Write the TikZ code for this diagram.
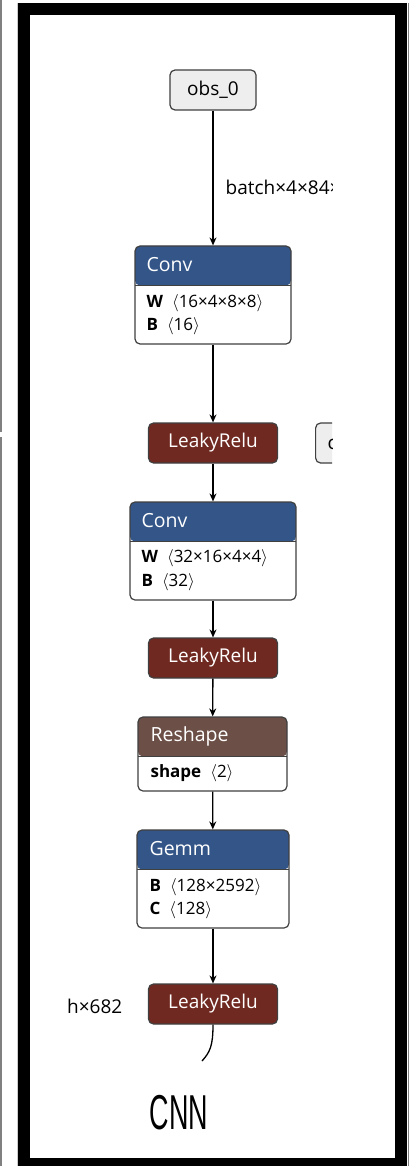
\documentclass[tikz,border=0pt]{standalone}
\usepackage{fontspec}
\setmainfont{Open Sans}
\newfontfamily\titlefont{Liberation Sans}
\usetikzlibrary{arrows.meta,positioning}
\definecolor{convblue}{RGB}{51,85,136}
\definecolor{relured}{RGB}{112,41,33}
\definecolor{shapebrown}{RGB}{108,79,71}
\definecolor{inputgray}{RGB}{238,238,238}
\definecolor{framegray}{RGB}{128,128,128}

\begin{document}
\begin{tikzpicture}[x=1pt, y=-1pt,
    opbox/.style={draw=black!75, line width=1.2pt, rounded corners=5pt, fill=white, inner sep=0pt},
    inbox/.style={opbox, fill=inputgray, font=\fontsize{19}{19}\selectfont},
    relubox/.style={opbox, fill=relured, text=white, minimum width=129pt, minimum height=40pt, font=\fontsize{19}{19}\selectfont},
    headbox/.style={opbox, path picture={
        \fill[#1] (path picture bounding box.north west) rectangle ([yshift=-39.5pt]path picture bounding box.north east);
        \draw[black!75, line width=1.2pt] ([yshift=-39.5pt]path picture bounding box.north west) -- ([yshift=-39.5pt]path picture bounding box.north east);}},
    headtext/.style={anchor=base west, inner sep=0pt, text=white, font=\fontsize{19.5}{19.5}\selectfont},
    attrtext/.style={anchor=base west, inner sep=0pt, font=\fontsize{17}{17}\selectfont},
    edgetext/.style={anchor=west, inner sep=0pt, font=\fontsize{19}{19}\selectfont},
    flow/.style={-{Stealth[length=8pt, width=7pt]}, line width=1.3pt}]
    \useasboundingbox (0,0) rectangle (416,1166);

    % Draw the black frame and the screenshot edges
    \fill[black] (18,3) rectangle (407,1166);
    \fill[white] (30,15) rectangle (395,1158);
    \draw[framegray, line width=1.5pt] (0.75,0) -- (0.75,432);
    \draw[framegray, line width=1.5pt] (0.75,437) -- (0.75,1166);
    \draw[black!20, line width=1pt] (17.5,3) -- (17.5,1166);
    \draw[framegray, line width=1pt] (408,3) -- (408,1166);

    % Input and operator boxes
    \node[inbox, minimum width=86pt, minimum height=40pt] (obs) at (213,90) {obs\_0};

    \node[headbox=convblue, minimum width=156pt, minimum height=98pt] (conv1) at (213,295) {};
    \node[headtext] (conv1h) at ([xshift=12pt, yshift=-26pt]conv1.north west) {Conv};
    \node[attrtext] (conv1w) at ([xshift=12pt, yshift=-62pt]conv1.north west) {\textbf{W}\hspace{9pt}$\langle$16×4×8×8$\rangle$};
    \node[attrtext] (conv1b) at ([xshift=12pt, yshift=-85pt]conv1.north west) {\textbf{B}\hspace{9pt}$\langle$16$\rangle$};

    \node[relubox] (relu1) at (213,443) {LeakyRelu};

    \node[headbox=convblue, minimum width=166pt, minimum height=98pt] (conv2) at (213,551) {};
    \node[headtext] (conv2h) at ([xshift=12pt, yshift=-26pt]conv2.north west) {Conv};
    \node[attrtext] (conv2w) at ([xshift=12pt, yshift=-61pt]conv2.north west) {\textbf{W}\hspace{9pt}$\langle$32×16×4×4$\rangle$};
    \node[attrtext] (conv2b) at ([xshift=12pt, yshift=-85pt]conv2.north west) {\textbf{B}\hspace{9pt}$\langle$32$\rangle$};

    \node[relubox] (relu2) at (213,658) {LeakyRelu};

    \node[headbox=shapebrown, minimum width=149pt, minimum height=74pt] (reshape) at (212.5,754) {};
    \node[headtext] (reshapeh) at ([xshift=13pt, yshift=-25pt]reshape.north west) {Reshape};
    \node[attrtext] (reshapes) at ([xshift=13pt, yshift=-61pt]reshape.north west) {\textbf{shape}\hspace{9pt}$\langle$2$\rangle$};

    \node[headbox=convblue, minimum width=152pt, minimum height=98pt] (gemm) at (213,879) {};
    \node[headtext] (gemmh) at ([xshift=13pt, yshift=-26pt]gemm.north west) {Gemm};
    \node[attrtext] (gemmb) at ([xshift=13pt, yshift=-62pt]gemm.north west) {\textbf{B}\hspace{9pt}$\langle$128×2592$\rangle$};
    \node[attrtext] (gemmc) at ([xshift=13pt, yshift=-85pt]gemm.north west) {\textbf{C}\hspace{9pt}$\langle$128$\rangle$};

    \node[relubox] (relu3) at (213,1004) {LeakyRelu};
    \node[edgetext] (gemmlabel) at (67,1006) {h×682};

    % Parts cut off at the right edge of the screenshot
    \begin{scope}
        \clip (30,15) rectangle (332,1158);
        \draw[flow] (obs) -- (conv1) node[edgetext, pos=0.57, xshift=12pt] (obslabel) {batch×4×84×84};
        \node[inbox, anchor=west, inner xsep=12pt, minimum height=40pt] (side) at (315,443) {const};
    \end{scope}

    % Connections
    \draw[flow] (conv1) -- (relu1);
    \draw[flow] (relu1) -- (conv2);
    \draw[flow] (conv2) -- (relu2);
    \draw[flow] (relu2) -- (reshape);
    \draw[flow] (reshape) -- (gemm);
    \draw[flow] (gemm) -- (relu3);
    \coordinate (relu3out) at (202,1061);
    \draw[line width=1.3pt] (relu3.south) .. controls (213,1046) and (210,1052) .. (relu3out);

    % Caption
    \node[font=\titlefont\fontsize{49}{49}\selectfont] (title) at (179,1112.5) {\scalebox{0.55}[1]{CNN}};
\end{tikzpicture}
\end{document}
